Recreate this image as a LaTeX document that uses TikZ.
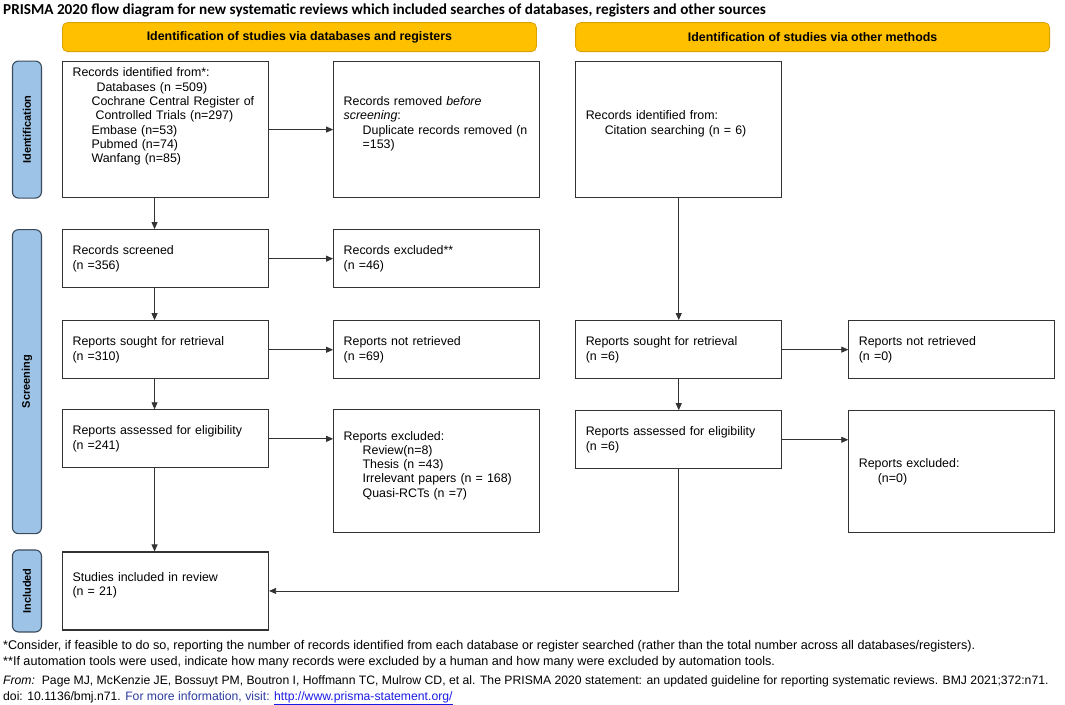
\documentclass[tikz,border=0pt]{standalone}
\usepackage{fontspec}
\setmainfont{Liberation Sans}
\newfontfamily\titlefont{Carlito}
\usepackage{xcolor}
\definecolor{prisma-gold}{HTML}{FFC000}
\definecolor{prisma-goldline}{HTML}{D9A200}
\definecolor{prisma-side}{HTML}{9DC3E6}
\definecolor{prisma-sideline}{HTML}{3B4B5E}
\definecolor{prisma-line}{HTML}{333333}
\definecolor{prisma-link}{HTML}{2B3A9E}
\definecolor{prisma-url}{HTML}{1A1AE6}
\usetikzlibrary{arrows.meta,positioning}
\tikzset{
  pbox/.style={
    rectangle,
    draw=prisma-line, line width=1.1pt, fill=white,
    text width=186pt, inner xsep=10pt, inner ysep=4pt,
    align=left, font=\fontsize{12.4}{14.3}\selectfont
  },
  headbox/.style={
    rectangle, rounded corners=5pt,
    draw=prisma-goldline, line width=0.8pt, fill=prisma-gold,
    minimum width=474pt, minimum height=29pt,
    font=\bfseries\fontsize{12.4}{14}\selectfont
  },
  sidebox/.style={
    rectangle, rounded corners=6pt,
    draw=prisma-sideline, line width=1.1pt, fill=prisma-side,
    minimum width=29pt, inner sep=0pt,
    font=\bfseries\fontsize{11}{13}\selectfont
  },
  titletxt/.style={
    inner sep=0pt, font=\titlefont\bfseries\fontsize{15.2}{17}\selectfont
  },
  notetxt/.style={
    inner sep=0pt, font=\fontsize{12.6}{14}\selectfont
  },
  reftxt/.style={
    inner sep=0pt, font=\fontsize{12.2}{14}\selectfont
  },
}

\begin{document}
\begin{tikzpicture}[
  x=1pt, y=-1pt,
  arr/.style={-{Triangle[length=7pt,width=6pt]}, line width=0.8pt, prisma-line},
  node distance=31pt and 64pt
]
  \useasboundingbox (0,0) rectangle (1065,704);

  \node[titletxt, anchor=base west] (title) at (3,14)
    {PRISMA 2020 flow diagram for new systematic reviews which included searches of databases, registers and other sources};

  % databases and registers
  \node[pbox, minimum height=136pt, anchor=north west] (ident) at (62,61)
    {Records identified from*:\\
     \hspace*{24pt}Databases (n =509)\\
     \hspace*{19pt}Cochrane Central Register of\\
     \hspace*{23pt}Controlled Trials (n=297)\\
     \hspace*{19pt}Embase (n=53)\\
     \hspace*{19pt}Pubmed (n=74)\\
     \hspace*{19pt}Wanfang (n=85)\\ \mbox{}\\ \mbox{}};
  \node[pbox, minimum height=136pt, right=of ident] (removed)
    {Records removed \emph{before}\\
     \emph{screening}:\\
     \hspace*{19pt}Duplicate records removed (n\\
     \hspace*{19pt}=153)\\ \mbox{}};
  \node[pbox, minimum height=58pt, below=of ident] (screened)
    {Records screened\\(n =356)};
  \node[pbox, minimum height=58pt, right=of screened] (excluded)
    {Records excluded**\\(n =46)};
  \node[pbox, minimum height=58pt, below=32pt of screened] (sought)
    {Reports sought for retrieval\\(n =310)};
  \node[pbox, minimum height=58pt, right=of sought] (notret)
    {Reports not retrieved\\(n =69)};
  \node[pbox, minimum height=58pt, below=30pt of sought] (assessed)
    {Reports assessed for eligibility\\(n =241)};
  \node[pbox, minimum height=123pt, right=64pt of assessed.north east, anchor=north west] (rexcl)
    {Reports excluded:\\
     \hspace*{19pt}Review(n=8)\\
     \hspace*{19pt}Thesis (n =43)\\
     \hspace*{19pt}Irrelevant papers (n = 168)\\
     \hspace*{19pt}Quasi-RCTs (n =7)\\ \mbox{}};
  \node[pbox, minimum height=78pt, below=83pt of assessed] (included)
    {Studies included in review\\(n = 21)\\ \mbox{}};

  % other methods
  \node[pbox, minimum height=136pt, right=35pt of removed] (other)
    {Records identified from:\\
     \hspace*{19pt}Citation searching (n = 6)\\ \mbox{}};
  \node[pbox, minimum height=58pt, below=122pt of other] (sought2)
    {Reports sought for retrieval\\(n =6)};
  \node[pbox, minimum height=58pt, right=66pt of sought2] (notret2)
    {Reports not retrieved\\(n =0)};
  \node[pbox, minimum height=58pt, below=of sought2] (assessed2)
    {Reports assessed for eligibility\\(n =6)};
  \node[pbox, minimum height=122pt, right=66pt of assessed2.north east, anchor=north west] (rexcl2)
    {Reports excluded:\\
     \hspace*{19pt}(n=0)};

  % headers and stages
  \node[headbox, above=9pt of ident.north west, anchor=south west] (headdb)
    {Identification of studies via databases and registers};
  \node[headbox, above=9pt of other.north west, anchor=south west] (headoth)
    {Identification of studies via other methods};
  \node[sidebox, minimum height=137pt, left=20pt of ident] (sideid)
    {\rotatebox{90}{Identification}};
  \node[sidebox, minimum height=304pt, left=20pt of screened.north west, anchor=north east] (sidescr)
    {\rotatebox{90}{Screening}};
  \node[sidebox, minimum height=82pt, left=20pt of included] (sideinc)
    {\rotatebox{90}{Included}};

  \draw[arr] (ident) -- (removed);
  \draw[arr] ([xshift=-11pt]ident.south) -- ([xshift=-11pt]screened.north);
  \draw[arr] (screened) -- (excluded);
  \draw[arr] ([xshift=-11pt]screened.south) -- ([xshift=-11pt]sought.north);
  \draw[arr] (sought) -- (notret);
  \draw[arr] ([xshift=-11pt]sought.south) -- ([xshift=-11pt]assessed.north);
  \draw[arr] (assessed) -- (assessed -| rexcl.west);
  \draw[arr] ([xshift=-11pt]assessed.south) -- ([xshift=-11pt]included.north);
  \draw[arr] (other) -- (sought2);
  \draw[arr] (sought2) -- (notret2);
  \draw[arr] (sought2) -- (assessed2);
  \draw[arr] (assessed2) -- (assessed2 -| rexcl2.west);
  \draw[arr] (assessed2) |- (included);

  % notes
  \node[notetxt, anchor=base west] (note1) at (3,649)
    {*Consider, if feasible to do so, reporting the number of records identified from each database or register searched (rather than the total number across all databases/registers).};
  \node[notetxt, anchor=base west] (note2) at (3,665)
    {**If automation tools were used, indicate how many records were excluded by a human and how many were excluded by automation tools.};
  \node[reftxt, anchor=base west] (from) at (3,684)
    {\textit{From:}\ \ Page MJ, McKenzie JE, Bossuyt PM, Boutron I, Hoffmann TC, Mulrow CD, et al. The PRISMA 2020 statement: an updated guideline for reporting systematic reviews. BMJ 2021;372:n71.};
  \node[reftxt, anchor=base west] (doi) at (3,700)
    {doi: 10.1136/bmj.n71. \textcolor{prisma-link}{For more information, visit:} \textcolor{prisma-url}{\underline{http://www.prisma-statement.org/}}};
\end{tikzpicture}
\end{document}
